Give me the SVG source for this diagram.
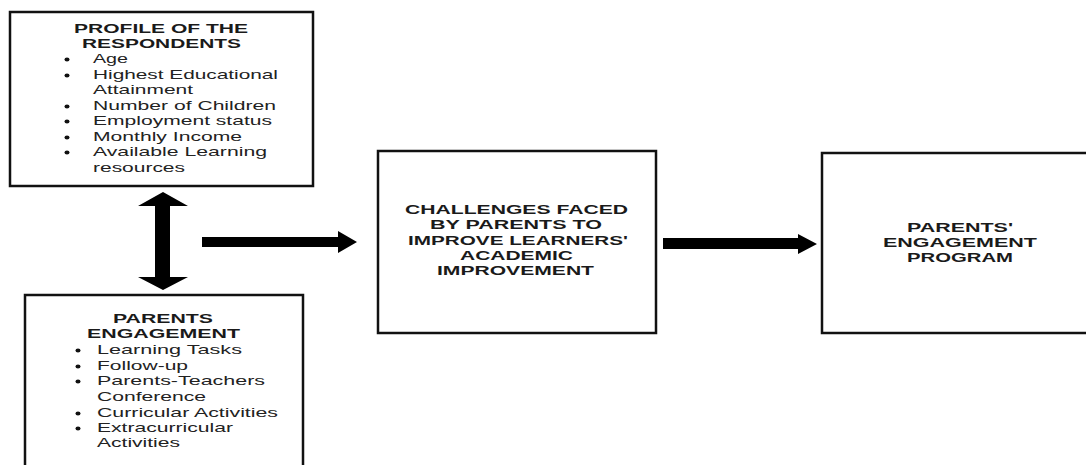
<svg xmlns="http://www.w3.org/2000/svg" width="1086" height="465" viewBox="0 0 1086 465">
<style>
.box{fill:#fff;stroke:#111;stroke-width:2.5}
.t{font-family:"Liberation Sans",Arial,sans-serif;font-weight:bold;font-size:12.5px;fill:#1a1a1a}
.b{font-family:"Liberation Sans",Arial,sans-serif;font-size:13px;fill:#222}
.dot{fill:#111}
.arr{fill:#000}
</style>
<rect width="1086" height="465" fill="#fff"/>
<g id="profile">
<rect class="box" x="10" y="12" width="303" height="174"/>
<text class="t" x="74" y="33" textLength="174" lengthAdjust="spacingAndGlyphs">PROFILE OF THE</text>
<text class="t" x="82" y="48" textLength="159" lengthAdjust="spacingAndGlyphs">RESPONDENTS</text>
<ellipse class="dot" cx="67" cy="59.5" rx="2.5" ry="2"/>
<text class="b" x="93" y="63" textLength="35" lengthAdjust="spacingAndGlyphs">Age</text>
<ellipse class="dot" cx="67" cy="75.5" rx="2.5" ry="2"/>
<text class="b" x="93" y="79" textLength="185" lengthAdjust="spacingAndGlyphs">Highest Educational</text>
<text class="b" x="93" y="94" textLength="100" lengthAdjust="spacingAndGlyphs">Attainment</text>
<ellipse class="dot" cx="67" cy="106.5" rx="2.5" ry="2"/>
<text class="b" x="93" y="110" textLength="183" lengthAdjust="spacingAndGlyphs">Number of Children</text>
<ellipse class="dot" cx="67" cy="121.5" rx="2.5" ry="2"/>
<text class="b" x="93" y="125" textLength="179" lengthAdjust="spacingAndGlyphs">Employment status</text>
<ellipse class="dot" cx="67" cy="137.5" rx="2.5" ry="2"/>
<text class="b" x="93" y="141" textLength="149" lengthAdjust="spacingAndGlyphs">Monthly Income</text>
<ellipse class="dot" cx="67" cy="152.5" rx="2.5" ry="2"/>
<text class="b" x="93" y="156" textLength="174" lengthAdjust="spacingAndGlyphs">Available Learning</text>
<text class="b" x="93" y="172" textLength="92" lengthAdjust="spacingAndGlyphs">resources</text>
</g>
<g id="engagement">
<rect class="box" x="25" y="295" width="278" height="185"/>
<text class="t" x="113" y="323" textLength="100" lengthAdjust="spacingAndGlyphs">PARENTS</text>
<text class="t" x="87" y="338" textLength="153" lengthAdjust="spacingAndGlyphs">ENGAGEMENT</text>
<ellipse class="dot" cx="78" cy="350.5" rx="2.5" ry="2"/>
<text class="b" x="97" y="354" textLength="145" lengthAdjust="spacingAndGlyphs">Learning Tasks</text>
<ellipse class="dot" cx="78" cy="366.5" rx="2.5" ry="2"/>
<text class="b" x="97" y="370" textLength="91" lengthAdjust="spacingAndGlyphs">Follow-up</text>
<ellipse class="dot" cx="78" cy="381.5" rx="2.5" ry="2"/>
<text class="b" x="97" y="385" textLength="168" lengthAdjust="spacingAndGlyphs">Parents-Teachers</text>
<text class="b" x="97" y="401" textLength="109" lengthAdjust="spacingAndGlyphs">Conference</text>
<ellipse class="dot" cx="78" cy="413.5" rx="2.5" ry="2"/>
<text class="b" x="97" y="417" textLength="181" lengthAdjust="spacingAndGlyphs">Curricular Activities</text>
<ellipse class="dot" cx="78" cy="428.5" rx="2.5" ry="2"/>
<text class="b" x="97" y="432" textLength="136" lengthAdjust="spacingAndGlyphs">Extracurricular</text>
<text class="b" x="97" y="447" textLength="83" lengthAdjust="spacingAndGlyphs">Activities</text>
</g>
<g id="challenges">
<rect class="box" x="378" y="151" width="278" height="182"/>
<text class="t" x="405" y="214" textLength="223" lengthAdjust="spacingAndGlyphs">CHALLENGES FACED</text>
<text class="t" x="430" y="229" textLength="172" lengthAdjust="spacingAndGlyphs">BY PARENTS TO</text>
<text class="t" x="408" y="245" textLength="220" lengthAdjust="spacingAndGlyphs">IMPROVE LEARNERS'</text>
<text class="t" x="460" y="260" textLength="113" lengthAdjust="spacingAndGlyphs">ACADEMIC</text>
<text class="t" x="437" y="275" textLength="157" lengthAdjust="spacingAndGlyphs">IMPROVEMENT</text>
</g>
<g id="program">
<rect class="box" x="822" y="153" width="300" height="180"/>
<text class="t" x="907" y="232" textLength="106" lengthAdjust="spacingAndGlyphs">PARENTS'</text>
<text class="t" x="883" y="247" textLength="154" lengthAdjust="spacingAndGlyphs">ENGAGEMENT</text>
<text class="t" x="907" y="262" textLength="106" lengthAdjust="spacingAndGlyphs">PROGRAM</text>
</g>
<g id="connectors">
<polygon class="arr" points="163,192 188,206 170,206 170,277 188,277 163,290 138,277 155,277 155,206 138,206"/>
<polygon class="arr" points="202,237 338,237 338,231 357,242 338,253 338,247 202,247"/>
<polygon class="arr" points="663,238 798,238 798,234 817,244 798,254 798,249 663,249"/>
</g>
</svg>
